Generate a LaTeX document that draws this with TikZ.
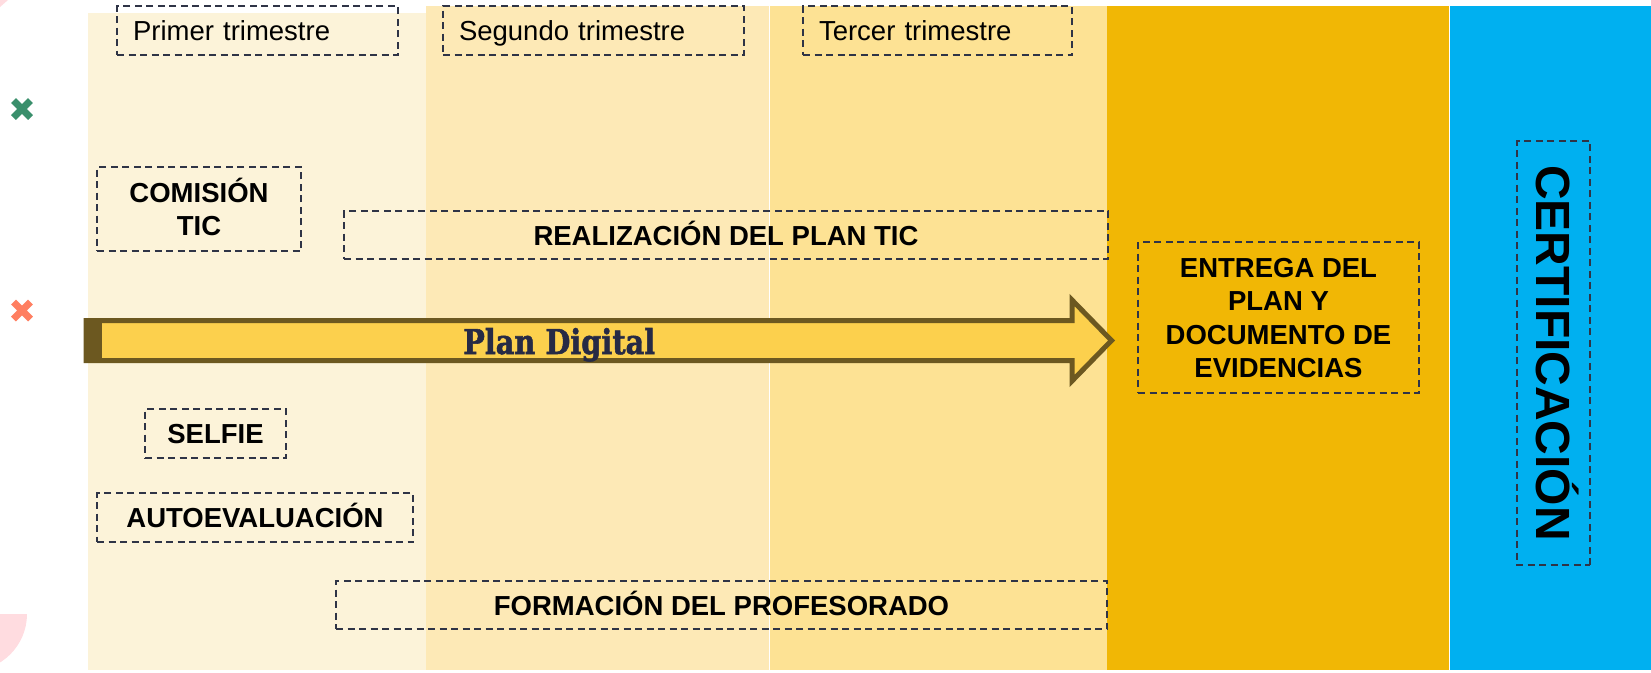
\documentclass[tikz,border=0pt]{standalone}
\usepackage{fontspec}
\setmainfont{Liberation Sans}
\newfontfamily\slabfont{DejaVu Serif}[BoldFeatures={FakeBold=1.6}]
\definecolor{colA}{HTML}{FCF3D9}
\definecolor{colB}{HTML}{FDE9B6}
\definecolor{colC}{HTML}{FDE294}
\definecolor{colD}{HTML}{F1B705}
\definecolor{colE}{HTML}{00B0F0}
\definecolor{dashc}{HTML}{2F3446}
\definecolor{arrowfill}{HTML}{FCD04D}
\definecolor{arrowdark}{HTML}{6C5820}
\definecolor{navyc}{HTML}{262A45}
\definecolor{xgreen}{HTML}{3A8F6C}
\definecolor{xcoral}{HTML}{FF7F61}
\definecolor{pinkc}{HTML}{FFDCE0}
\tikzset{
  dbox/.style={draw=dashc, dash pattern=on 7pt off 4.5pt, line width=1.8pt, inner sep=0pt},
  bigtxt/.style={font=\fontsize{27.5pt}{33.4pt}\selectfont},
  boldtxt/.style={font=\fontsize{27.5pt}{33.4pt}\selectfont\bfseries, align=center},
  trim/.style={dbox, bigtxt, align=left, inner xsep=16pt, inner ysep=0pt, text height=20pt, text depth=0pt, minimum height=49pt},
  onebox/.style={dbox, boldtxt, text height=20pt, text depth=0pt},
  xmark/.style={line width=7pt}
}
\begin{document}
\begin{tikzpicture}[x=1pt,y=-1pt]
\useasboundingbox (0,0) rectangle (1651,672);
% columns
\fill[colA] (88,13) rectangle (426,670);
\fill[colB] (426,6) rectangle (768.5,670);
\fill[colC] (769.5,6) rectangle (1107,670);
\fill[colD] (1107,6) rectangle (1448.5,670);
\fill[colE] (1450,6) rectangle (1651,670);
% decorations
\fill[pinkc] (0,0) -- (8,0) -- (0,7) -- cycle;
\begin{scope}
  \clip (0,614) rectangle (60,672);
  \fill[pinkc] (-30,614) circle (57pt);
\end{scope}
\draw[xmark, xgreen] (13.5,100.5) -- (30.5,117.5) (13.5,117.5) -- (30.5,100.5);
\draw[xmark, xcoral] (13.5,302) -- (30.5,319) (13.5,319) -- (30.5,302);
% arrow
\filldraw[fill=arrowfill, draw=arrowdark, line width=5pt, line join=miter]
  (86,320.5) -- (1072,320.5) -- (1072,300) -- (1111.5,340.5) -- (1072,381) -- (1072,360.5) -- (86,360.5) -- cycle;
\fill[arrowdark] (85,318) rectangle (102,363);
\node[text=navyc, anchor=base west, inner sep=0pt] (pd) at (463,354) {\resizebox{192pt}{26pt}{\slabfont\bfseries Plan Digital}};
% trimester boxes
\node[trim, text width=249pt] (t1) at (257.5,30.5) {Primer trimestre};
\node[trim, text width=269pt] (t2) at (593.5,30.5) {Segundo trimestre};
\node[trim, text width=237pt] (t3) at (937.5,30.5) {Tercer trimestre};
% task boxes
\node[dbox, boldtxt, text height=53.4pt, text depth=0pt, minimum width=204pt, minimum height=84pt] (com) at (199,209) {COMISIÓN\\TIC};
\node[onebox, minimum width=764pt, minimum height=48pt] (real) at (726,235) {REALIZACIÓN DEL PLAN TIC};
\node[dbox, boldtxt, text height=120.2pt, text depth=0pt, minimum width=281pt, minimum height=151pt] (ent) at (1278.5,317.5) {ENTREGA DEL\\PLAN Y\\DOCUMENTO DE\\EVIDENCIAS};
\node[onebox, minimum width=141pt, minimum height=49pt] (self) at (215.5,433.5) {SELFIE};
\node[onebox, minimum width=316pt, minimum height=49pt] (auto) at (255,517.5) {AUTOEVALUACIÓN};
\node[onebox, minimum width=771pt, minimum height=48pt] (form) at (721.5,605) {FORMACIÓN DEL PROFESORADO};
\node[dbox, rotate=-90, font=\fontsize{48pt}{52pt}\selectfont\bfseries, text height=34.4pt, text depth=0pt, minimum width=424pt, minimum height=73pt] (cert) at (1553.5,353) {CERTIFICACIÓN};
\end{tikzpicture}
\end{document}
